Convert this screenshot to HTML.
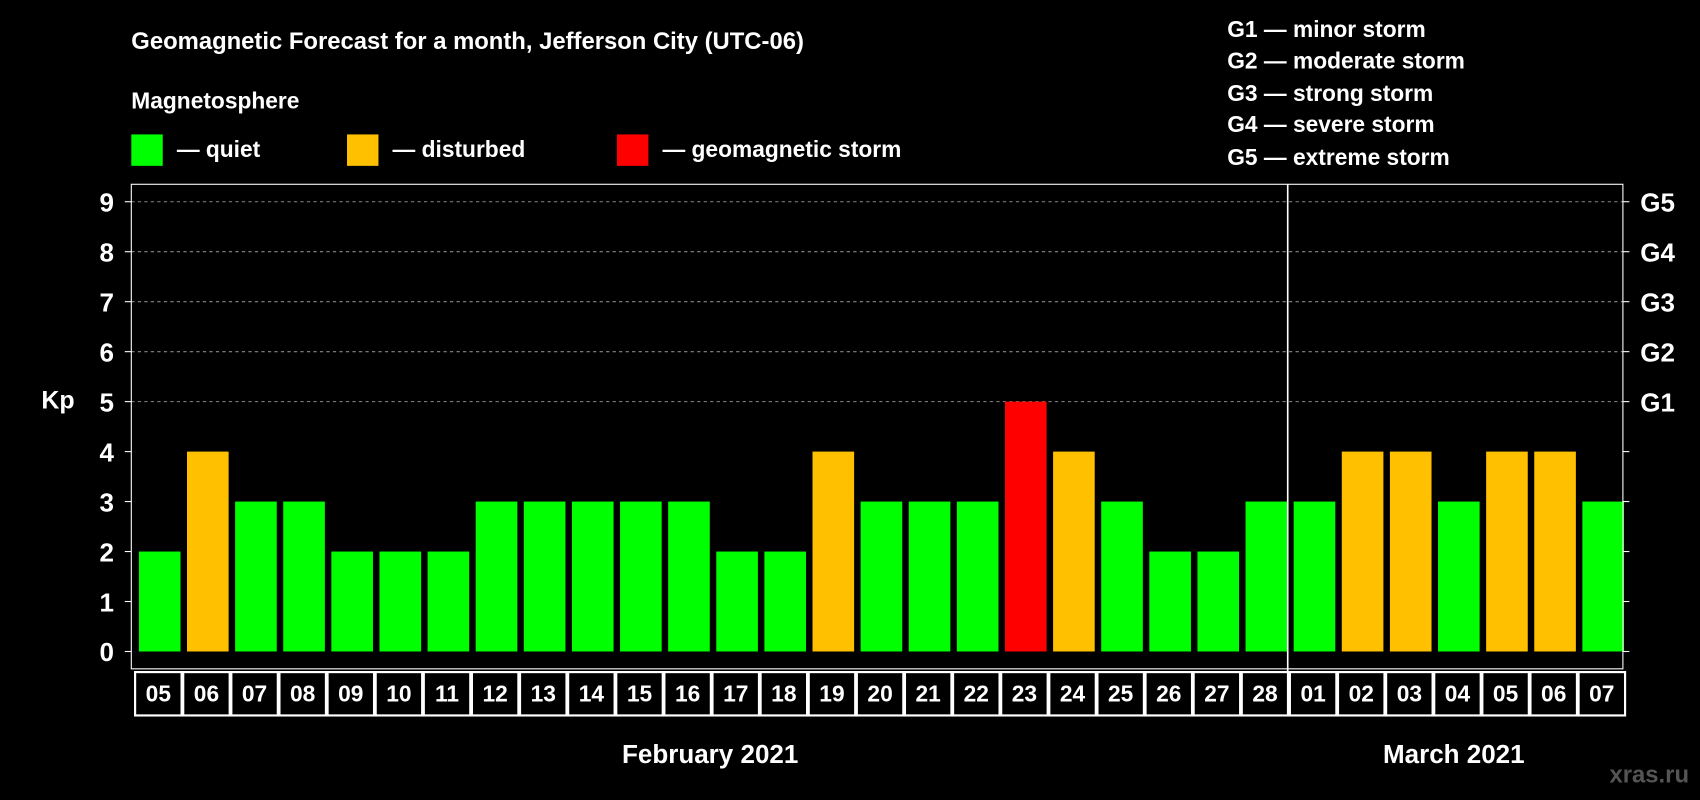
<!DOCTYPE html>
<html><head><meta charset="utf-8"><style>
html,body{margin:0;padding:0;background:#000;width:1700px;height:800px;overflow:hidden}
svg{display:block;font-family:"Liberation Sans",Arial,sans-serif;font-weight:bold}
</style></head><body>
<svg id="chart" width="1700" height="800" viewBox="0 0 1568 738" xmlns="http://www.w3.org/2000/svg">
<rect width="1568" height="738" fill="#000"/>
<text x="121" y="45" fill="#fff" font-size="22">Geomagnetic Forecast for a month, Jefferson City (UTC-06)</text>
<text x="121" y="100" fill="#fff" font-size="21">Magnetosphere</text>
<g><rect x="121" y="124" width="29" height="29" fill="#00ff00"/><text x="163" y="145" fill="#fff" font-size="21">— quiet</text></g>
<g><rect x="320" y="124" width="29" height="29" fill="#ffc000"/><text x="362" y="145" fill="#fff" font-size="21">— disturbed</text></g>
<g><rect x="569" y="124" width="29" height="29" fill="#ff0000"/><text x="611" y="145" fill="#fff" font-size="21">— geomagnetic storm</text></g>
<g fill="#fff" font-size="21">
<text x="1132" y="34">G1 — minor storm</text><text x="1132" y="63">G2 — moderate storm</text><text x="1132" y="93">G3 — strong storm</text><text x="1132" y="122">G4 — severe storm</text><text x="1132" y="152">G5 — extreme storm</text></g>
<text x="38" y="377" fill="#fff" font-size="23">Kp</text>
<g id="grid"></g><g id="bars"></g><g id="axes"></g>
<text x="655" y="704" fill="#fff" font-size="24" text-anchor="middle">February 2021</text>
<text x="1341" y="704" fill="#fff" font-size="24" text-anchor="middle">March 2021</text>
<text x="1558" y="722" fill="#555" font-size="22" text-anchor="end">xras.ru</text>
</svg>
<script>
const days=["05","06","07","08","09","10","11","12","13","14","15","16","17","18","19","20","21","22","23","24","25","26","27","28","01","02","03","04","05","06","07"];
const kp=[2,4,3,3,2,2,2,3,3,3,3,3,2,2,4,3,3,3,5,4,3,2,2,3,3,4,4,3,4,4,3];
const yTicks=[0,1,2,3,4,5,6,7,8,9];
const gLabels={5:"G1",6:"G2",7:"G3",8:"G4",9:"G5"};
const NS="http://www.w3.org/2000/svg";
const L=121,R=1497,T=170,B=617,slot=(R-L)/days.length;
const y=v=>601-v*46.1;
const x=i=>L+i*slot;
function mk(tag,attrs,parent){const e=document.createElementNS(NS,tag);for(const k in attrs)e.setAttribute(k,attrs[k]);parent.appendChild(e);return e;}
const grid=document.getElementById('grid'),bars=document.getElementById('bars'),axes=document.getElementById('axes');
yTicks.forEach(v=>{
 if(v>=5){const g=mk('line',{x1:L,x2:R,y1:y(v),y2:y(v),stroke:'#888','stroke-dasharray':'3,3','stroke-width':1},grid);
 
 }
 const t=mk('text',{x:105,y:y(v)+9,fill:'#fff','font-size':24,'text-anchor':'end'},axes);t.textContent=v;
 
 
 mk('line',{x1:L-6,x2:L,y1:y(v),y2:y(v),stroke:'#fff'},axes);
 mk('line',{x1:R,x2:R+6,y1:y(v),y2:y(v),stroke:'#fff'},axes);
 if(gLabels[v]){const g=mk('text',{x:1513,y:y(v)+9,fill:'#fff','font-size':24},axes);g.textContent=gLabels[v];
 
 }
});
kp.forEach((v,i)=>{
 const c=v>=5?'#ff0000':(v>=4?'#ffc000':'#00ff00');
 const b=mk('rect',{x:x(i)+7,y:y(v),width:slot-6,height:y(0)-y(v)+0,fill:c},bars);
 
 
 const bx=mk('rect',{x:x(i)+3.5,y:620,width:slot-1.5,height:40,fill:'none',stroke:'#fff','stroke-width':2},axes);
 
 
 const t=mk('text',{x:x(i)+3.5+(slot-1.5)/2,y:647,fill:'#fff','font-size':21,'text-anchor':'middle'},axes);t.textContent=days[i];
 
 
});
mk('rect',{x:L,y:T,width:R-L,height:B-T,fill:'none',stroke:'#fff','stroke-width':1},axes);
const sep=mk('line',{x1:x(24)+1.5,x2:x(24)+1.5,y1:T,y2:660,stroke:'#fff','stroke-width':1.5},axes);


</script>
</body></html>
